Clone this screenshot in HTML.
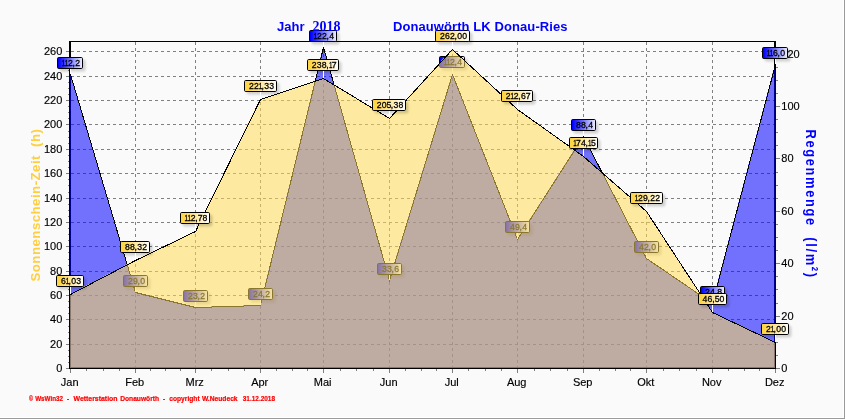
<!DOCTYPE html>
<html lang="de"><head><meta charset="utf-8"><title>Jahr 2018 Donauwörth LK Donau-Ries</title>
<style>html,body{margin:0;padding:0;background:#fafafa;}body{width:845px;height:419px;overflow:hidden;}svg{display:block;}text{font-family:"Liberation Sans",sans-serif;}.ax{font-size:11px;fill:#000;stroke:#000;stroke-width:0.15px;}.mk{font-size:8.7px;fill:#000;stroke:#000;stroke-width:0.28px;}.tt{font-size:13px;font-weight:bold;fill:#0000ff;}.ts{font-family:"Liberation Serif",serif;font-size:14px;font-weight:bold;fill:#0000ff;}.ft{font-size:7px;font-weight:bold;fill:#ff0000;stroke:#ff0000;stroke-width:0.2px;}</style></head><body>
<svg width="845" height="419" viewBox="0 0 845 419">
<defs><linearGradient id="gb" x1="0" y1="0" x2="1" y2="0"><stop offset="0" stop-color="#0000ff"/><stop offset="0.04" stop-color="#0000ff"/><stop offset="1" stop-color="#f0f0ff"/></linearGradient><linearGradient id="gy" x1="0" y1="0" x2="1" y2="0"><stop offset="0" stop-color="#ffd548"/><stop offset="0.1" stop-color="#ffd548"/><stop offset="1" stop-color="#ffffff"/></linearGradient><filter id="sh" x="-20%" y="-40%" width="150%" height="200%"><feGaussianBlur stdDeviation="1.1"/></filter><clipPath id="cp"><rect x="70" y="42" width="705" height="326"/></clipPath></defs>
<rect x="0" y="0" width="845" height="419" fill="#fafafa"/>
<rect x="843" y="0" width="1" height="418" fill="#ffffff"/><rect x="0" y="417" width="844" height="1" fill="#ffffff"/>
<rect x="844" y="0" width="1" height="419" fill="#9a9a9a"/><rect x="0" y="418" width="845" height="1" fill="#9a9a9a"/>
<g stroke="#808080" stroke-width="1" stroke-dasharray="3 3" shape-rendering="crispEdges" fill="none">
<line x1="71" y1="344.5" x2="774" y2="344.5"/>
<line x1="71" y1="319.5" x2="774" y2="319.5"/>
<line x1="71" y1="295.5" x2="774" y2="295.5"/>
<line x1="71" y1="271.5" x2="774" y2="271.5"/>
<line x1="71" y1="246.5" x2="774" y2="246.5"/>
<line x1="71" y1="222.5" x2="774" y2="222.5"/>
<line x1="71" y1="198.5" x2="774" y2="198.5"/>
<line x1="71" y1="173.5" x2="774" y2="173.5"/>
<line x1="71" y1="149.5" x2="774" y2="149.5"/>
<line x1="71" y1="124.5" x2="774" y2="124.5"/>
<line x1="71" y1="100.5" x2="774" y2="100.5"/>
<line x1="71" y1="76.5" x2="774" y2="76.5"/>
<line x1="71" y1="51.5" x2="774" y2="51.5"/>
<line x1="135.5" y1="42" x2="135.5" y2="367"/>
<line x1="195.5" y1="42" x2="195.5" y2="367"/>
<line x1="260.5" y1="42" x2="260.5" y2="367"/>
<line x1="323.5" y1="42" x2="323.5" y2="367"/>
<line x1="389.5" y1="42" x2="389.5" y2="367"/>
<line x1="452.5" y1="42" x2="452.5" y2="367"/>
<line x1="517.5" y1="42" x2="517.5" y2="367"/>
<line x1="583.5" y1="42" x2="583.5" y2="367"/>
<line x1="646.5" y1="42" x2="646.5" y2="367"/>
<line x1="712.5" y1="42" x2="712.5" y2="367"/>
</g>
<g shape-rendering="crispEdges">
<rect x="69" y="41" width="707" height="1" fill="#000"/>
<rect x="69" y="41" width="2" height="328" fill="#000"/>
<rect x="774" y="41" width="2" height="328" fill="#000"/>
<rect x="69" y="367" width="707" height="2" fill="#000"/>
<rect x="66" y="368" width="3" height="1" fill="#808080"/>
<rect x="68" y="362" width="1" height="1" fill="#808080"/>
<rect x="68" y="356" width="1" height="1" fill="#808080"/>
<rect x="68" y="350" width="1" height="1" fill="#808080"/>
<rect x="66" y="344" width="3" height="1" fill="#808080"/>
<rect x="68" y="338" width="1" height="1" fill="#808080"/>
<rect x="68" y="332" width="1" height="1" fill="#808080"/>
<rect x="68" y="326" width="1" height="1" fill="#808080"/>
<rect x="66" y="319" width="3" height="1" fill="#808080"/>
<rect x="68" y="313" width="1" height="1" fill="#808080"/>
<rect x="68" y="307" width="1" height="1" fill="#808080"/>
<rect x="68" y="301" width="1" height="1" fill="#808080"/>
<rect x="66" y="295" width="3" height="1" fill="#808080"/>
<rect x="68" y="289" width="1" height="1" fill="#808080"/>
<rect x="68" y="283" width="1" height="1" fill="#808080"/>
<rect x="68" y="277" width="1" height="1" fill="#808080"/>
<rect x="66" y="271" width="3" height="1" fill="#808080"/>
<rect x="68" y="265" width="1" height="1" fill="#808080"/>
<rect x="68" y="259" width="1" height="1" fill="#808080"/>
<rect x="68" y="252" width="1" height="1" fill="#808080"/>
<rect x="66" y="246" width="3" height="1" fill="#808080"/>
<rect x="68" y="240" width="1" height="1" fill="#808080"/>
<rect x="68" y="234" width="1" height="1" fill="#808080"/>
<rect x="68" y="228" width="1" height="1" fill="#808080"/>
<rect x="66" y="222" width="3" height="1" fill="#808080"/>
<rect x="68" y="216" width="1" height="1" fill="#808080"/>
<rect x="68" y="210" width="1" height="1" fill="#808080"/>
<rect x="68" y="204" width="1" height="1" fill="#808080"/>
<rect x="66" y="198" width="3" height="1" fill="#808080"/>
<rect x="68" y="192" width="1" height="1" fill="#808080"/>
<rect x="68" y="185" width="1" height="1" fill="#808080"/>
<rect x="68" y="179" width="1" height="1" fill="#808080"/>
<rect x="66" y="173" width="3" height="1" fill="#808080"/>
<rect x="68" y="167" width="1" height="1" fill="#808080"/>
<rect x="68" y="161" width="1" height="1" fill="#808080"/>
<rect x="68" y="155" width="1" height="1" fill="#808080"/>
<rect x="66" y="149" width="3" height="1" fill="#808080"/>
<rect x="68" y="143" width="1" height="1" fill="#808080"/>
<rect x="68" y="137" width="1" height="1" fill="#808080"/>
<rect x="68" y="131" width="1" height="1" fill="#808080"/>
<rect x="66" y="124" width="3" height="1" fill="#808080"/>
<rect x="68" y="118" width="1" height="1" fill="#808080"/>
<rect x="68" y="112" width="1" height="1" fill="#808080"/>
<rect x="68" y="106" width="1" height="1" fill="#808080"/>
<rect x="66" y="100" width="3" height="1" fill="#808080"/>
<rect x="68" y="94" width="1" height="1" fill="#808080"/>
<rect x="68" y="88" width="1" height="1" fill="#808080"/>
<rect x="68" y="82" width="1" height="1" fill="#808080"/>
<rect x="66" y="76" width="3" height="1" fill="#808080"/>
<rect x="68" y="70" width="1" height="1" fill="#808080"/>
<rect x="68" y="64" width="1" height="1" fill="#808080"/>
<rect x="68" y="57" width="1" height="1" fill="#808080"/>
<rect x="66" y="51" width="3" height="1" fill="#808080"/>
<rect x="776" y="368" width="4" height="1" fill="#808080"/>
<rect x="776" y="355" width="2" height="1" fill="#808080"/>
<rect x="776" y="342" width="2" height="1" fill="#808080"/>
<rect x="776" y="329" width="2" height="1" fill="#808080"/>
<rect x="776" y="316" width="4" height="1" fill="#808080"/>
<rect x="776" y="303" width="2" height="1" fill="#808080"/>
<rect x="776" y="289" width="2" height="1" fill="#808080"/>
<rect x="776" y="276" width="2" height="1" fill="#808080"/>
<rect x="776" y="263" width="4" height="1" fill="#808080"/>
<rect x="776" y="250" width="2" height="1" fill="#808080"/>
<rect x="776" y="237" width="2" height="1" fill="#808080"/>
<rect x="776" y="224" width="2" height="1" fill="#808080"/>
<rect x="776" y="211" width="4" height="1" fill="#808080"/>
<rect x="776" y="198" width="2" height="1" fill="#808080"/>
<rect x="776" y="185" width="2" height="1" fill="#808080"/>
<rect x="776" y="172" width="2" height="1" fill="#808080"/>
<rect x="776" y="158" width="4" height="1" fill="#808080"/>
<rect x="776" y="145" width="2" height="1" fill="#808080"/>
<rect x="776" y="132" width="2" height="1" fill="#808080"/>
<rect x="776" y="119" width="2" height="1" fill="#808080"/>
<rect x="776" y="106" width="4" height="1" fill="#808080"/>
<rect x="776" y="93" width="2" height="1" fill="#808080"/>
<rect x="776" y="80" width="2" height="1" fill="#808080"/>
<rect x="776" y="67" width="2" height="1" fill="#808080"/>
<rect x="776" y="54" width="4" height="1" fill="#808080"/>
<rect x="70" y="369" width="1" height="4" fill="#808080"/>
<rect x="86" y="369" width="1" height="2" fill="#808080"/>
<rect x="103" y="369" width="1" height="2" fill="#808080"/>
<rect x="119" y="369" width="1" height="2" fill="#808080"/>
<rect x="135" y="369" width="1" height="4" fill="#808080"/>
<rect x="150" y="369" width="1" height="2" fill="#808080"/>
<rect x="165" y="369" width="1" height="2" fill="#808080"/>
<rect x="180" y="369" width="1" height="2" fill="#808080"/>
<rect x="195" y="369" width="1" height="4" fill="#808080"/>
<rect x="211" y="369" width="1" height="2" fill="#808080"/>
<rect x="228" y="369" width="1" height="2" fill="#808080"/>
<rect x="244" y="369" width="1" height="2" fill="#808080"/>
<rect x="260" y="369" width="1" height="4" fill="#808080"/>
<rect x="276" y="369" width="1" height="2" fill="#808080"/>
<rect x="292" y="369" width="1" height="2" fill="#808080"/>
<rect x="307" y="369" width="1" height="2" fill="#808080"/>
<rect x="323" y="369" width="1" height="4" fill="#808080"/>
<rect x="340" y="369" width="1" height="2" fill="#808080"/>
<rect x="356" y="369" width="1" height="2" fill="#808080"/>
<rect x="373" y="369" width="1" height="2" fill="#808080"/>
<rect x="389" y="369" width="1" height="4" fill="#808080"/>
<rect x="405" y="369" width="1" height="2" fill="#808080"/>
<rect x="421" y="369" width="1" height="2" fill="#808080"/>
<rect x="436" y="369" width="1" height="2" fill="#808080"/>
<rect x="452" y="369" width="1" height="4" fill="#808080"/>
<rect x="468" y="369" width="1" height="2" fill="#808080"/>
<rect x="485" y="369" width="1" height="2" fill="#808080"/>
<rect x="501" y="369" width="1" height="2" fill="#808080"/>
<rect x="517" y="369" width="1" height="4" fill="#808080"/>
<rect x="534" y="369" width="1" height="2" fill="#808080"/>
<rect x="550" y="369" width="1" height="2" fill="#808080"/>
<rect x="567" y="369" width="1" height="2" fill="#808080"/>
<rect x="583" y="369" width="1" height="4" fill="#808080"/>
<rect x="599" y="369" width="1" height="2" fill="#808080"/>
<rect x="615" y="369" width="1" height="2" fill="#808080"/>
<rect x="630" y="369" width="1" height="2" fill="#808080"/>
<rect x="646" y="369" width="1" height="4" fill="#808080"/>
<rect x="663" y="369" width="1" height="2" fill="#808080"/>
<rect x="679" y="369" width="1" height="2" fill="#808080"/>
<rect x="696" y="369" width="1" height="2" fill="#808080"/>
<rect x="712" y="369" width="1" height="4" fill="#808080"/>
<rect x="728" y="369" width="1" height="2" fill="#808080"/>
<rect x="744" y="369" width="1" height="2" fill="#808080"/>
<rect x="759" y="369" width="1" height="2" fill="#808080"/>
<rect x="775" y="369" width="1" height="4" fill="#808080"/>
</g>
<g class="ax">
<text x="62.3" y="372" text-anchor="end">0</text>
<text x="62.3" y="348" text-anchor="end">20</text>
<text x="62.3" y="323" text-anchor="end">40</text>
<text x="62.3" y="299" text-anchor="end">60</text>
<text x="62.3" y="275" text-anchor="end">80</text>
<text x="62.3" y="250" text-anchor="end">100</text>
<text x="62.3" y="226" text-anchor="end">120</text>
<text x="62.3" y="202" text-anchor="end">140</text>
<text x="62.3" y="177" text-anchor="end">160</text>
<text x="62.3" y="153" text-anchor="end">180</text>
<text x="62.3" y="128" text-anchor="end">200</text>
<text x="62.3" y="104" text-anchor="end">220</text>
<text x="62.3" y="80" text-anchor="end">240</text>
<text x="62.3" y="55" text-anchor="end">260</text>
</g>
<g class="ax">
<text x="781.3" y="372">0</text>
<text x="781.3" y="320">20</text>
<text x="781.3" y="267">40</text>
<text x="781.3" y="215">60</text>
<text x="781.3" y="162">80</text>
<text x="781.3" y="110">100</text>
<text x="781.3" y="58">120</text>
</g>
<g class="ax">
<text x="69.7" y="386" text-anchor="middle">Jan</text>
<text x="134.7" y="386" text-anchor="middle">Feb</text>
<text x="194.7" y="386" text-anchor="middle">Mrz</text>
<text x="259.7" y="386" text-anchor="middle">Apr</text>
<text x="322.7" y="386" text-anchor="middle">Mai</text>
<text x="388.7" y="386" text-anchor="middle">Jun</text>
<text x="451.7" y="386" text-anchor="middle">Jul</text>
<text x="516.7" y="386" text-anchor="middle">Aug</text>
<text x="582.7" y="386" text-anchor="middle">Sep</text>
<text x="645.7" y="386" text-anchor="middle">Okt</text>
<text x="711.7" y="386" text-anchor="middle">Nov</text>
<text x="774.7" y="386" text-anchor="middle">Dez</text>
</g>
<g shape-rendering="crispEdges" clip-path="url(#cp)">
<polygon points="70,368 70,74 135,292 195,307 260,305 323,47 389,280 452,74 517,239 583,136 646,258 712,303 775,64 775,368" fill="#0000ff" fill-opacity="0.55"/>
<polyline points="70.5,74.5 135.5,292.5 195.5,307.5 260.5,305.5 323.5,47.5 389.5,280.5 452.5,74.5 517.5,239.5 583.5,136.5 646.5,258.5 712.5,303.5 775.5,64.5" fill="none" stroke="#000" stroke-width="1"/>
</g>
<g>
<rect x="59.5" y="59.5" width="26" height="12" rx="2.5" fill="#000" fill-opacity="0.17" filter="url(#sh)"/><rect x="70" y="69" width="1" height="5" fill="#fff" shape-rendering="crispEdges"/><rect x="57.5" y="57.5" width="25" height="11" rx="1.2" fill="url(#gb)" stroke="#000" stroke-width="1"/><text class="mk" y="66"><tspan x="61.8" textLength="3.5" lengthAdjust="spacingAndGlyphs">1</tspan><tspan x="64.8" textLength="3.5" lengthAdjust="spacingAndGlyphs">1</tspan><tspan x="67.9 72.5 75.3">2,2</tspan></text>
<rect x="125.5" y="277.5" width="25" height="12" rx="2.5" fill="#000" fill-opacity="0.17" filter="url(#sh)"/><rect x="135" y="287" width="1" height="5" fill="#fff" shape-rendering="crispEdges"/><rect x="123.5" y="275.5" width="24" height="11" rx="1.2" fill="url(#gb)" stroke="#000" stroke-width="1"/><text class="mk" y="284"><tspan x="127.9 132.9 137.5 140.3">29,0</tspan></text>
<rect x="185.5" y="292.5" width="25" height="12" rx="2.5" fill="#000" fill-opacity="0.17" filter="url(#sh)"/><rect x="195" y="302" width="1" height="5" fill="#fff" shape-rendering="crispEdges"/><rect x="183.5" y="290.5" width="24" height="11" rx="1.2" fill="url(#gb)" stroke="#000" stroke-width="1"/><text class="mk" y="299"><tspan x="187.9 192.9 197.5 200.3">23,2</tspan></text>
<rect x="250.5" y="290.5" width="25" height="12" rx="2.5" fill="#000" fill-opacity="0.17" filter="url(#sh)"/><rect x="260" y="300" width="1" height="5" fill="#fff" shape-rendering="crispEdges"/><rect x="248.5" y="288.5" width="24" height="11" rx="1.2" fill="url(#gb)" stroke="#000" stroke-width="1"/><text class="mk" y="297"><tspan x="252.9 257.9 262.4 265.3">24,2</tspan></text>
<rect x="311.5" y="32.5" width="28" height="12" rx="2.5" fill="#000" fill-opacity="0.17" filter="url(#sh)"/><rect x="323" y="42" width="1" height="5" fill="#fff" shape-rendering="crispEdges"/><rect x="309.5" y="30.5" width="27" height="11" rx="1.2" fill="url(#gb)" stroke="#000" stroke-width="1"/><text class="mk" y="39"><tspan x="313.8" textLength="3.5" lengthAdjust="spacingAndGlyphs">1</tspan><tspan x="316.9 321.9 326.4 329.3">22,4</tspan></text>
<rect x="379.5" y="265.5" width="25" height="12" rx="2.5" fill="#000" fill-opacity="0.17" filter="url(#sh)"/><rect x="389" y="275" width="1" height="5" fill="#fff" shape-rendering="crispEdges"/><rect x="377.5" y="263.5" width="24" height="11" rx="1.2" fill="url(#gb)" stroke="#000" stroke-width="1"/><text class="mk" y="272"><tspan x="381.9 386.9 391.4 394.3">33,6</tspan></text>
<rect x="441.5" y="58.5" width="26" height="12" rx="2.5" fill="#000" fill-opacity="0.17" filter="url(#sh)"/><rect x="452" y="68" width="1" height="6" fill="#fff" shape-rendering="crispEdges"/><rect x="439.5" y="56.5" width="25" height="11" rx="1.2" fill="url(#gb)" stroke="#000" stroke-width="1"/><text class="mk" y="65"><tspan x="443.8" textLength="3.5" lengthAdjust="spacingAndGlyphs">1</tspan><tspan x="446.8" textLength="3.5" lengthAdjust="spacingAndGlyphs">1</tspan><tspan x="449.9 454.4 457.3">2,4</tspan></text>
<rect x="507.5" y="223.5" width="25" height="12" rx="2.5" fill="#000" fill-opacity="0.17" filter="url(#sh)"/><rect x="517" y="233" width="1" height="6" fill="#fff" shape-rendering="crispEdges"/><rect x="505.5" y="221.5" width="24" height="11" rx="1.2" fill="url(#gb)" stroke="#000" stroke-width="1"/><text class="mk" y="230"><tspan x="509.9 514.9 519.4 522.3">49,4</tspan></text>
<rect x="573.5" y="121.5" width="25" height="12" rx="2.5" fill="#000" fill-opacity="0.17" filter="url(#sh)"/><rect x="583" y="131" width="1" height="5" fill="#fff" shape-rendering="crispEdges"/><rect x="571.5" y="119.5" width="24" height="11" rx="1.2" fill="url(#gb)" stroke="#000" stroke-width="1"/><text class="mk" y="128"><tspan x="575.9 580.9 585.4 588.3">88,4</tspan></text>
<rect x="636.5" y="243.5" width="25" height="12" rx="2.5" fill="#000" fill-opacity="0.17" filter="url(#sh)"/><rect x="646" y="253" width="1" height="5" fill="#fff" shape-rendering="crispEdges"/><rect x="634.5" y="241.5" width="24" height="11" rx="1.2" fill="url(#gb)" stroke="#000" stroke-width="1"/><text class="mk" y="250"><tspan x="638.9 643.9 648.4 651.3">42,0</tspan></text>
<rect x="702.5" y="288.5" width="25" height="12" rx="2.5" fill="#000" fill-opacity="0.17" filter="url(#sh)"/><rect x="712" y="298" width="1" height="5" fill="#fff" shape-rendering="crispEdges"/><rect x="700.5" y="286.5" width="24" height="11" rx="1.2" fill="url(#gb)" stroke="#000" stroke-width="1"/><text class="mk" y="295"><tspan x="704.9 709.9 714.4 717.3">24,8</tspan></text>
<rect x="764.5" y="49.5" width="26" height="12" rx="2.5" fill="#000" fill-opacity="0.17" filter="url(#sh)"/><rect x="775" y="59" width="1" height="5" fill="#fff" shape-rendering="crispEdges"/><rect x="762.5" y="47.5" width="25" height="11" rx="1.2" fill="url(#gb)" stroke="#000" stroke-width="1"/><text class="mk" y="56"><tspan x="766.8" textLength="3.5" lengthAdjust="spacingAndGlyphs">1</tspan><tspan x="769.8" textLength="3.5" lengthAdjust="spacingAndGlyphs">1</tspan><tspan x="772.9 777.4 780.3">6,0</tspan></text>
</g>
<g shape-rendering="crispEdges" clip-path="url(#cp)">
<polygon points="70,368 70,294 135,260 195,231 260,99 323,78 389,118 452,49 517,109 583,156 646,211 712,312 775,342 775,368" fill="#ffdc53" fill-opacity="0.54"/>
<polyline points="70.5,294.5 135.5,260.5 195.5,231.5 260.5,99.5 323.5,78.5 389.5,118.5 452.5,49.5 517.5,109.5 583.5,156.5 646.5,211.5 712.5,312.5 775.5,342.5" fill="none" stroke="#000" stroke-width="1"/>
</g>
<g>
<rect x="58.5" y="277.5" width="28" height="12" rx="2.5" fill="#000" fill-opacity="0.17" filter="url(#sh)"/><rect x="70" y="287" width="1" height="7" fill="#fff" shape-rendering="crispEdges"/><rect x="56.5" y="275.5" width="27" height="11" rx="1.2" fill="url(#gy)" stroke="#000" stroke-width="1"/><text class="mk" y="284"><tspan x="60.9">6</tspan><tspan x="65.8" textLength="3.5" lengthAdjust="spacingAndGlyphs">1</tspan><tspan x="68.5 71.3 76.3">,03</tspan></text>
<rect x="122.5" y="243.5" width="30" height="12" rx="2.5" fill="#000" fill-opacity="0.17" filter="url(#sh)"/><rect x="135" y="253" width="1" height="7" fill="#fff" shape-rendering="crispEdges"/><rect x="120.5" y="241.5" width="29" height="11" rx="1.2" fill="url(#gy)" stroke="#000" stroke-width="1"/><text class="mk" y="250"><tspan x="124.9 129.9 134.5 137.3 142.3">88,32</tspan></text>
<rect x="182.5" y="214.5" width="30" height="12" rx="2.5" fill="#000" fill-opacity="0.17" filter="url(#sh)"/><rect x="195" y="224" width="1" height="7" fill="#fff" shape-rendering="crispEdges"/><rect x="180.5" y="212.5" width="29" height="11" rx="1.2" fill="url(#gy)" stroke="#000" stroke-width="1"/><text class="mk" y="221"><tspan x="184.5" textLength="3.5" lengthAdjust="spacingAndGlyphs">1</tspan><tspan x="187.5" textLength="3.5" lengthAdjust="spacingAndGlyphs">1</tspan><tspan x="190.7 195.2 197.7 202.5">2,78</tspan></text>
<rect x="246.5" y="82.5" width="33" height="12" rx="2.5" fill="#000" fill-opacity="0.17" filter="url(#sh)"/><rect x="260" y="92" width="1" height="7" fill="#fff" shape-rendering="crispEdges"/><rect x="244.5" y="80.5" width="32" height="11" rx="1.2" fill="url(#gy)" stroke="#000" stroke-width="1"/><text class="mk" y="89"><tspan x="248.9 253.9">22</tspan><tspan x="258.8" textLength="3.5" lengthAdjust="spacingAndGlyphs">1</tspan><tspan x="261.4 264.3 269.3">,33</tspan></text>
<rect x="309.5" y="61.5" width="32" height="12" rx="2.5" fill="#000" fill-opacity="0.17" filter="url(#sh)"/><rect x="323" y="71" width="1" height="7" fill="#fff" shape-rendering="crispEdges"/><rect x="307.5" y="59.5" width="31" height="11" rx="1.2" fill="url(#gy)" stroke="#000" stroke-width="1"/><text class="mk" y="68"><tspan x="311.7 316.7 321.7 326.2">238,</tspan><tspan x="328.9" textLength="3.5" lengthAdjust="spacingAndGlyphs">1</tspan><tspan x="331.7">7</tspan></text>
<rect x="374.5" y="101.5" width="34" height="12" rx="2.5" fill="#000" fill-opacity="0.17" filter="url(#sh)"/><rect x="389" y="111" width="1" height="7" fill="#fff" shape-rendering="crispEdges"/><rect x="372.5" y="99.5" width="33" height="11" rx="1.2" fill="url(#gy)" stroke="#000" stroke-width="1"/><text class="mk" y="108"><tspan x="376.7 381.7 386.4 390.7 393.6 398.6">205,38</tspan></text>
<rect x="437.5" y="32.5" width="35" height="12" rx="2.5" fill="#000" fill-opacity="0.17" filter="url(#sh)"/><rect x="452" y="42" width="1" height="7" fill="#fff" shape-rendering="crispEdges"/><rect x="435.5" y="30.5" width="34" height="11" rx="1.2" fill="url(#gy)" stroke="#000" stroke-width="1"/><text class="mk" y="39"><tspan x="439.9 444.9 449.9 454.4 457.3 462.3">262,00</tspan></text>
<rect x="503.5" y="92.5" width="32" height="12" rx="2.5" fill="#000" fill-opacity="0.17" filter="url(#sh)"/><rect x="517" y="102" width="1" height="7" fill="#fff" shape-rendering="crispEdges"/><rect x="501.5" y="90.5" width="31" height="11" rx="1.2" fill="url(#gy)" stroke="#000" stroke-width="1"/><text class="mk" y="99"><tspan x="505.7">2</tspan><tspan x="510.6" textLength="3.5" lengthAdjust="spacingAndGlyphs">1</tspan><tspan x="513.7 518.2 521.1 525.7">2,67</tspan></text>
<rect x="571.5" y="139.5" width="29" height="12" rx="2.5" fill="#000" fill-opacity="0.17" filter="url(#sh)"/><rect x="583" y="149" width="1" height="7" fill="#fff" shape-rendering="crispEdges"/><rect x="569.5" y="137.5" width="28" height="11" rx="1.2" fill="url(#gy)" stroke="#000" stroke-width="1"/><text class="mk" y="146"><tspan x="573.3" textLength="3.5" lengthAdjust="spacingAndGlyphs">1</tspan><tspan x="576.1 580.9 585.4">74,</tspan><tspan x="588.1" textLength="3.5" lengthAdjust="spacingAndGlyphs">1</tspan><tspan x="591.0">5</tspan></text>
<rect x="632.5" y="194.5" width="33" height="12" rx="2.5" fill="#000" fill-opacity="0.17" filter="url(#sh)"/><rect x="646" y="204" width="1" height="7" fill="#fff" shape-rendering="crispEdges"/><rect x="630.5" y="192.5" width="32" height="11" rx="1.2" fill="url(#gy)" stroke="#000" stroke-width="1"/><text class="mk" y="201"><tspan x="634.8" textLength="3.5" lengthAdjust="spacingAndGlyphs">1</tspan><tspan x="637.9 642.9 647.4 650.3 655.3">29,22</tspan></text>
<rect x="700.5" y="295.5" width="29" height="12" rx="2.5" fill="#000" fill-opacity="0.17" filter="url(#sh)"/><rect x="712" y="305" width="1" height="7" fill="#fff" shape-rendering="crispEdges"/><rect x="698.5" y="293.5" width="28" height="11" rx="1.2" fill="url(#gy)" stroke="#000" stroke-width="1"/><text class="mk" y="302"><tspan x="702.6 707.6 712.2 714.8 719.5">46,50</tspan></text>
<rect x="763.5" y="325.5" width="28" height="12" rx="2.5" fill="#000" fill-opacity="0.17" filter="url(#sh)"/><rect x="775" y="335" width="1" height="7" fill="#fff" shape-rendering="crispEdges"/><rect x="761.5" y="323.5" width="27" height="11" rx="1.2" fill="url(#gy)" stroke="#000" stroke-width="1"/><text class="mk" y="332"><tspan x="765.9">2</tspan><tspan x="770.8" textLength="3.5" lengthAdjust="spacingAndGlyphs">1</tspan><tspan x="773.4 776.3 781.3">,00</tspan></text>
</g>
<text class="tt" x="277" y="30.5" textLength="27.5" lengthAdjust="spacing">Jahr</text>
<text class="ts" x="312.5" y="30.5" textLength="28" lengthAdjust="spacing">2018</text>
<text class="tt" x="393" y="30.5" textLength="174.5" lengthAdjust="spacing">Donauwörth LK Donau-Ries</text>
<text transform="translate(40.3,281.5) rotate(-90)" style="font-size:13.33px;font-weight:bold;fill:#ffcf40;white-space:pre" xml:space="preserve" textLength="152.5" lengthAdjust="spacing">Sonnenschein-Zeit  (h)</text>
<text transform="translate(806,129.5) rotate(90) scale(0.92,1.1)" style="font-size:14px;font-weight:bold;fill:#0000ff;white-space:pre" xml:space="preserve" textLength="160.3" lengthAdjust="spacing">Regenmenge  (l/m²)</text>
<text class="ft" x="29.0" y="400.5" textLength="4.0" lengthAdjust="spacingAndGlyphs">©</text>
<text class="ft" x="35.2" y="400.5" textLength="27.9" lengthAdjust="spacingAndGlyphs">WsWin32</text>
<text class="ft" x="67.0" y="400.5" textLength="2.2" lengthAdjust="spacingAndGlyphs">-</text>
<text class="ft" x="73.5" y="400.5" textLength="44.0" lengthAdjust="spacingAndGlyphs">Wetterstation</text>
<text class="ft" x="120.2" y="400.5" textLength="38.9" lengthAdjust="spacingAndGlyphs">Donauwörth</text>
<text class="ft" x="163.0" y="400.5" textLength="2.2" lengthAdjust="spacingAndGlyphs">-</text>
<text class="ft" x="169.3" y="400.5" textLength="30.3" lengthAdjust="spacingAndGlyphs">copyright</text>
<text class="ft" x="201.9" y="400.5" textLength="35.7" lengthAdjust="spacingAndGlyphs">W.Neudeck</text>
<text class="ft" x="242.8" y="400.5" textLength="32.2" lengthAdjust="spacingAndGlyphs">31.12.2018</text>
</svg></body></html>
